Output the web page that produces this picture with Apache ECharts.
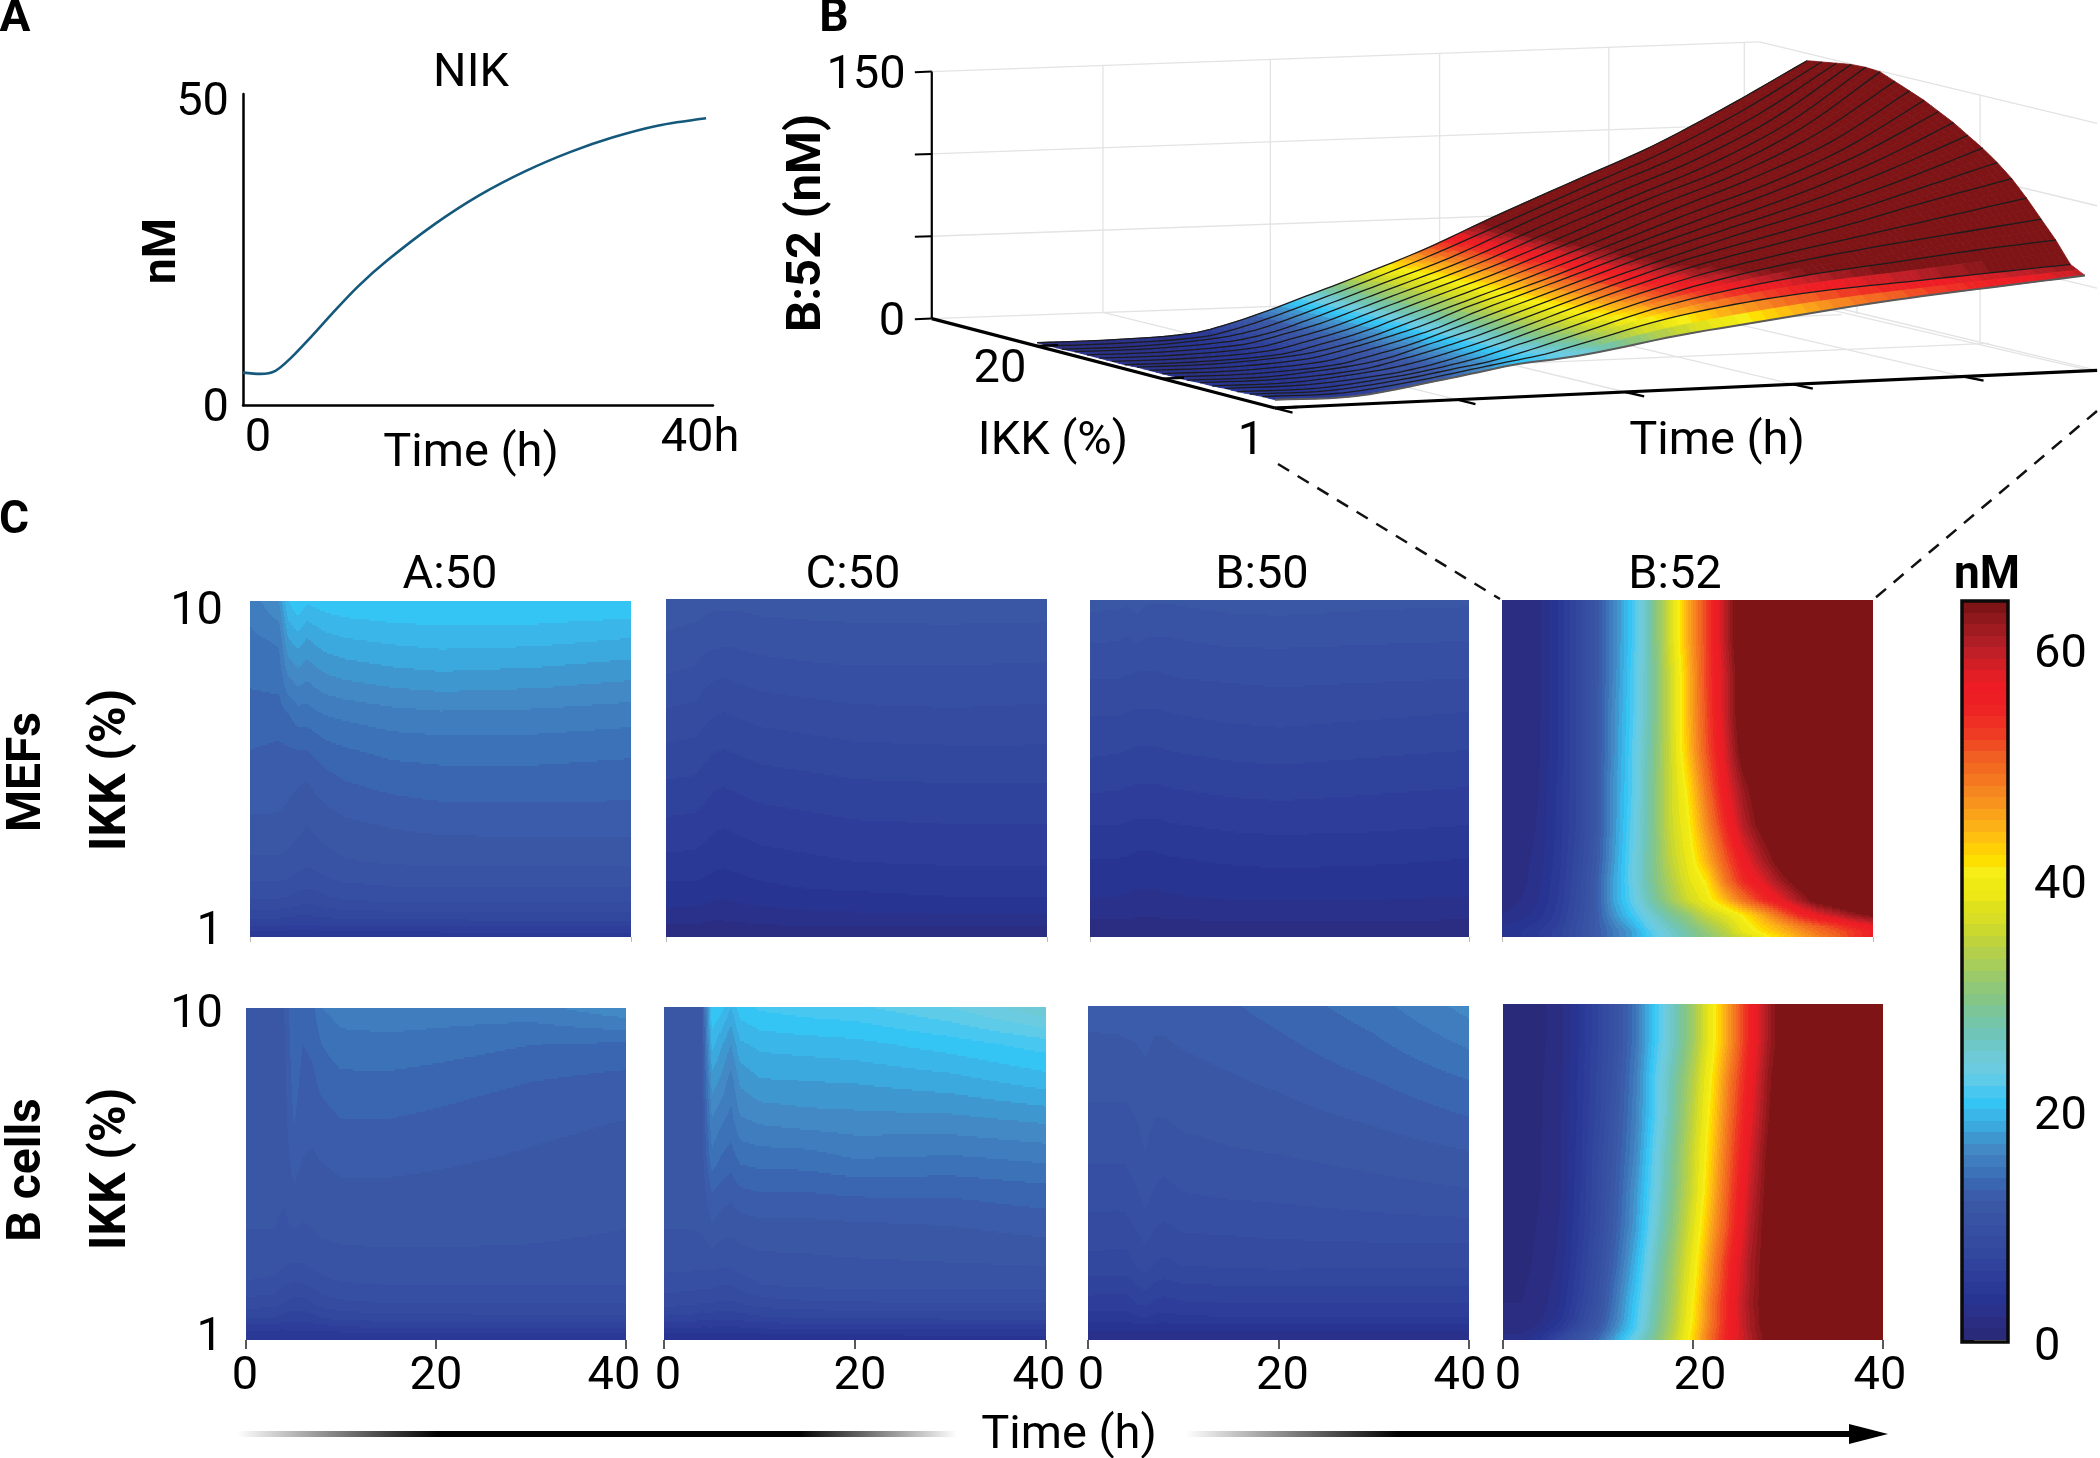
<!DOCTYPE html>
<html><head><meta charset="utf-8">
<style>html,body{margin:0;padding:0;background:#fff}#c{width:2100px;height:1458px}</style>
<script src="https://cdn.jsdelivr.net/npm/echarts@6/dist/echarts.min.js"></script>
</head><body><div id="c"></div>
<script>
// ---------- colour levels, one per nM (index = floor of the value) ----------
const levelColors = ['#2a2a7a','#2a2d82','#29318a','#273492','#2a3896','#2d3d99','#2f429c','#32479e','#354ba0','#374fa2',
'#3953a4','#3a57a6','#3b5caa','#3a65b0','#3c72b8','#3f7dbf','#4289c6','#3f97d0','#3ba8de','#3ab6e8',
'#34c5f5','#48c8f0','#5ecbe8','#6bcbe0','#6ecad6','#6fc8c8','#6fc5b8','#75c6a8','#7cc598','#85c687',
'#8fc878','#9aca69','#a7cd5b','#b3cf4c','#bfd33c','#cbd92f','#d7de25','#dfe11c','#ede716','#f0ea14',
'#f6ee16','#fde000','#ffd005','#ffc00f','#fcb116','#faa21a','#f8941d','#f6861f','#f57821','#f36b21',
'#f15f22','#f04d23','#ef3a24','#ef2f24','#ee2424','#ee1f24','#ee1c25','#e41e25','#d21f26','#c01f27',
'#ae1e24','#9f1b20','#8f181c','#7f1416'];
const colorbarTicks = [0,20,40,60];

// ---------- panel A ----------
const nikTime = [0,1.5,2.8,4.1,5.9,7.7,9.9,12.5,16.5,20.4,24.4,28.3,31.9,35.8,40];
const nikValue = [5.2,5.0,5.5,7.5,11.0,14.7,19.0,23.3,29.0,33.7,37.6,40.7,43.0,44.9,46.1];

// ---------- panel C grids ----------
const ikkRows = [1,1.15,1.3,1.6,2,2.5,3,4,5,6,7,8,9,10];
const timeBlue = [0,3,4,5,6,7,8,10,15,20,30,40];
const timeB52 = [0,2,4,6,8,10,12,14,16,18,20,22,24,26,28,30,32,34,36,38,40];

const a50Mef = [
[4.4,4.4,4.2,4.2,4.2,4.2,4.3,4.3,4.4,4.5,4.6,4.6],
[5,5,4.9,4.8,4.8,4.9,4.9,5,5.1,5.1,5.1,5.1],
[6,6,5.9,5.8,5.8,5.9,6,6.1,6.1,6.1,6.2,6.2],
[7.4,7.4,7.3,7.1,7,7.2,7.3,7.5,7.6,7.7,7.8,7.7],
[8.9,8.9,8.8,8.5,8.3,8.5,8.7,9,9.2,9.3,9.3,9.3],
[10,10,9.9,9.6,9.4,9.6,9.8,10.1,10.3,10.4,10.4,10.4],
[10.8,10.8,10.7,10.4,10.2,10.4,10.6,10.9,11.1,11.2,11.2,11.2],
[11.8,11.8,11.6,11.3,11,11.3,11.5,11.8,12.1,12.3,12.4,12.4],
[12.5,12.4,12.2,12,11.8,12.2,12.4,12.8,13.2,13.4,13.4,13.3],
[13,12.8,12.9,13,13,13.3,13.6,13.9,14.3,14.4,14.4,14.2],
[13.6,13.6,14,14.6,14.6,14.9,15.1,15.3,15.7,15.9,15.8,15.5],
[14.2,14.4,16,16.6,16.2,16.6,16.9,17.2,17.6,17.8,17.6,17.2],
[14.8,15.2,18,18.6,18,18.4,18.7,19,19.3,19.5,19.4,19],
[15.4,17,20,21,20.2,20.4,20.6,20.8,21,21,21,20.9]];

const c50Mef = [
[1.2,1.2,1.2,1.2,1.2,1.2,1.2,1.2,1.3,1.3,1.3,1.3],
[1.5,1.5,1.5,1.4,1.4,1.4,1.5,1.5,1.5,1.6,1.6,1.6],
[1.9,1.9,1.8,1.7,1.7,1.8,1.8,1.9,2,2,2,2],
[2.6,2.6,2.5,2.4,2.4,2.5,2.5,2.6,2.8,2.9,3,3],
[3.4,3.4,3.3,3.1,3,3.1,3.2,3.4,3.6,3.7,3.9,3.9],
[4,4,3.9,3.7,3.6,3.7,3.8,4,4.3,4.4,4.6,4.6],
[4.7,4.7,4.5,4.3,4.2,4.3,4.4,4.6,4.8,5,5.1,5.1],
[5.8,5.7,5.5,5.2,5.1,5.2,5.3,5.5,5.7,5.9,6,6],
[6.8,6.7,6.4,6.1,6,6.1,6.2,6.4,6.6,6.8,6.9,6.9],
[7.8,7.7,7.4,7.1,7,7.1,7.2,7.4,7.6,7.8,7.9,7.9],
[8.9,8.7,8.4,8.1,8,8.1,8.2,8.4,8.6,8.8,8.9,8.8],
[10,9.8,9.4,9.2,9.1,9.2,9.3,9.5,9.7,9.8,9.8,9.7],
[10.9,10.7,10.5,10.4,10.3,10.3,10.4,10.5,10.6,10.7,10.7,10.6],
[11.6,11.5,11.4,11.3,11.3,11.3,11.3,11.4,11.5,11.5,11.6,11.6]];

const b50Mef = [
[1.2,1.2,1.2,1.2,1.2,1.2,1.2,1.2,1.2,1.2,1.2,1.2],
[1.4,1.4,1.4,1.4,1.4,1.4,1.4,1.4,1.4,1.4,1.4,1.4],
[1.7,1.7,1.7,1.6,1.6,1.6,1.7,1.7,1.8,1.8,1.8,1.7],
[2.2,2.2,2.2,2.1,2.1,2.1,2.2,2.2,2.3,2.3,2.3,2.2],
[2.9,2.9,2.8,2.7,2.7,2.7,2.8,2.9,3,3,3,2.9],
[3.4,3.4,3.3,3.2,3.2,3.2,3.3,3.4,3.5,3.6,3.5,3.4],
[3.9,3.9,3.8,3.7,3.7,3.7,3.8,3.9,4.1,4.2,4.1,3.9],
[5,5,4.9,4.8,4.8,4.8,4.9,5,5.2,5.3,5.2,5],
[6.2,6.1,6,5.9,5.9,5.9,6,6.1,6.3,6.4,6.2,6],
[7.2,7.1,7,6.9,6.9,6.9,7,7.1,7.3,7.4,7.2,7],
[8.1,8.1,8,7.9,7.9,7.9,8,8.1,8.3,8.4,8.2,8],
[9.1,9.1,9,8.9,8.9,8.9,9,9.1,9.2,9.3,9.2,9.1],
[10.2,10.1,10,10.2,10,10,10,10.1,10.3,10.3,10.2,10.1],
[11.4,11.3,11.2,11.5,11.1,11.1,11.1,11.2,11.4,11.5,11.3,11.2]];

const a50Bcell = [
[4,4,4,4.6,4.4,4.2,4.2,4.2,4.3,4.3,4.4,4.4],
[4.4,4.4,4.4,4.8,4.6,4.5,4.5,4.6,4.7,4.7,4.7,4.7],
[5.2,5.2,5.1,5.3,5.2,5.2,5.3,5.6,5.8,5.8,5.8,5.8],
[7,7,6.6,6.4,6.4,6.6,7,7.3,7.6,7.6,7.7,7.7],
[8.6,8.4,8,7.6,7.6,8,8.4,8.8,9,9,9,9],
[9.8,9.6,9,8.8,8.9,9.2,9.6,9.9,10,10,10,10],
[10.6,10.4,10,9.9,9.9,10.2,10.4,10.6,10.7,10.7,10.7,10.6],
[11,11,10.8,11,10.9,11,11.2,11.3,11.3,11.3,11.2,11],
[11.2,11.2,11.1,11.8,11.4,11.4,11.6,11.8,11.8,11.7,11.5,11.2],
[11.4,11.3,11.3,12.6,12,11.9,12.1,12.3,12.3,12.2,11.9,11.6],
[11.5,11.4,11.5,13.1,12.3,12.4,12.6,13,13,12.8,12.3,12],
[11.6,11.5,11.6,13.5,12.6,12.8,13.3,13.7,13.7,13.5,13,12.6],
[11.7,11.6,11.8,13.8,13,13.2,14,14.6,14.7,14.5,14,13.8],
[11.8,11.7,12,14,13.4,13.8,15,15.5,15.6,15.6,15.6,16.8]];

const c50Bcell = [
[3.6,3.6,3.6,3.6,3.6,3.6,3.6,3.6,3.6,3.7,3.8,3.8],
[3.9,3.9,3.9,3.9,3.9,3.9,3.9,3.9,4,4,4.1,4.1],
[4.8,4.8,4.7,4.7,4.6,4.6,4.7,4.9,5,5,5.1,5.1],
[6.8,6.6,6.3,6.4,6.3,6.2,6.4,6.8,7,7.1,7.2,7.2],
[8.4,8.2,8,8,7.8,7.8,8,8.5,8.8,8.9,9,9],
[9.5,9.4,9.2,9.2,9,9,9.4,10,10.2,10.3,10.3,10.3],
[10.3,10.2,10.2,10.3,10.1,10.1,10.4,10.6,10.7,10.8,10.9,11],
[11,11,11.1,11.8,11.4,11.2,11.4,11.6,11.6,11.7,11.9,12.3],
[11.3,11.3,11.4,13,12.6,12.3,12.8,13,13,13.2,13.2,13.6],
[11.5,11.5,11.6,14.8,14,13.6,14.4,14.6,14.7,15.2,15,15.4],
[11.6,11.6,11.7,16,15.3,14.7,15.9,16.3,16.6,16.7,16.8,17.3],
[11.7,11.7,11.8,17.5,16.8,15.5,17.2,17.9,18,18.1,18.6,19.5],
[11.8,11.8,11.9,19.4,18.2,17,18.8,19.3,19.5,19.7,20.5,21.5],
[11.9,11.9,12,21,20.5,19,20.6,21.2,21.6,21.8,23,25]];

const b50Bcell = [
[2,2,2,2,2.2,2,2,2,2,2,2.1,2.1],
[2.4,2.4,2.4,2.4,2.6,2.4,2.4,2.5,2.5,2.5,2.5,2.5],
[3.2,3.2,3.2,3.2,3.4,3.2,3.2,3.3,3.3,3.3,3.3,3.3],
[4.6,4.5,4.5,4.8,5,4.7,4.6,4.8,4.9,4.9,4.9,4.9],
[5.6,5.5,5.5,6,6.3,5.8,5.6,5.9,6,6,6,6],
[6.6,6.5,6.5,7,7.4,6.9,6.7,7,7.1,7.1,7.1,7.1],
[7.6,7.5,7.5,8,8.4,7.9,7.7,8,8.1,8.2,8.1,8.1],
[8.6,8.6,8.6,9,9.5,9,8.8,9.1,9.2,9.3,9.5,9.6],
[9.5,9.4,9.5,9.9,10.4,9.9,9.7,10,10.2,10.3,10.6,10.9],
[10.2,10.2,10.2,10.5,11,10.5,10.4,10.7,10.9,11,11.4,11.9],
[10.8,10.8,10.8,11,11.4,11,11,11.2,11.4,11.6,12.2,13],
[11.3,11.3,11.3,11.4,11.7,11.4,11.4,11.6,11.9,12.2,13,14],
[11.8,11.8,11.9,12,12.2,11.9,11.9,12.1,12.4,12.8,13.8,15.2],
[12.5,12.6,12.7,12.8,12.7,12.4,12.4,12.5,12.9,13.4,14.6,16.4]];

const b52Mef = [
[3.5,4,5,6.5,9,12,15,18,21.5,24.5,27.5,30,33,36,39.5,42,45,47.5,50,53,55.5],
[3.5,4,5,6.5,9,12,15,18,22,25,28,31,34,38.5,41.5,44,46.5,49,51,53,55.5],
[3,3.5,4.5,6,9,12,15.5,19,23,26,29,32,35,39,42.5,45,48,50.5,52.5,55,57],
[2,2.5,3.5,5.5,8.5,12,17,21,24.5,28,31,35,37.5,41,45,49.5,54,57,59.5,62,64],
[1.5,2,3,5,8,12,18,22.5,27,31.5,36,39,44,49,53.5,57,61,65,67,69,71],
[1,1.5,2.8,4.7,7.8,12,18,23,28,33,37.5,41,48.5,54,57.5,61.5,65,67,69,71,73],
[1,1.5,2.5,4.5,7.5,11.5,17.5,23,28,34,38.5,44,50.5,56,60.5,64.5,67,69,71,73,76],
[1,1,2.2,4.3,7,11,17,22.5,28,35,40,47,54,60,64.5,67,69,71,74,77,80],
[1,1,2,4.2,7,11,17,22,28,35,41.5,49,56.5,62,66,68,72,75,78,82,86],
[1,1,1.9,4,7,11,16.5,22,27.5,35,43.5,51,58,65,69,72,75,79,83,87,91],
[1,1,1.8,4,7,11,16.5,21.5,27,35,44,51.5,59,66,70,73,78,83,88,92,96],
[1,1,1.8,4,7,11,16,21.5,27,35,44,52,59,66,71,77,82,87,92,97,102],
[1,1,1.8,4,7,11,16,21,27,36,45,52,60,67,73,79,85,90,96,101,106],
[1,1,1.8,4,7,11,16,21,27,36,45,52,60,67,74,80,86,92,98,104,110]];

const b52Bcell = [
[2.5,2.5,4,7.5,10.5,14,19,24,29,35,42,50,56.5,60.5,64.5,67,70,72,74,76,78],
[2,2,3.5,6.5,10,13,18,23,28.5,34.5,42,50,56,60.5,64.5,67,70,72,74,76,78],
[1.5,1.5,2.5,5,8.5,12,17,22,28,34,41.5,49.5,56,61,65,68,70,72,74,76,78],
[1,1,1.8,3.5,7,11,16,21.5,27.5,33.5,41,49,56,61,65,68,70,72,74,76,78],
[1,1,1.5,3,6.3,10,15.5,21,27,33,40.5,49,56,61.5,65,68,71,73,75,77,79],
[0.9,0.9,1.3,2.6,5.9,9.6,14.8,20.2,26.5,32.5,39.8,48,55.5,61,65,68,71,73,75,77,79],
[0.8,0.8,1.2,2.3,5.5,9.2,14,19.5,26,32,39,47.5,55,61,65,68,71,73,75,77,79],
[0.7,0.7,1.1,2.1,5,8.5,13,18,24.5,30.5,37.5,45.5,53,60,65,69,72,75,77,79,81],
[0.6,0.6,1,1.9,4.7,8.2,12.5,17.5,23.5,29.5,36,44,52,59,64.5,68,72,75,78,80,82],
[0.6,0.6,1,1.9,4.5,8,12,16.5,23,29,35.5,43,51,58,64,68,72,75,78,81,84],
[0.5,0.5,0.9,1.8,4.3,7.5,11.5,16,22,28,34.5,42,50,57,63,67,71,75,78,82,85],
[0.5,0.5,0.9,1.7,4.2,7.3,11,15.7,22,27.5,33.5,41,49,56,62.5,67,71,75,79,83,86],
[0.5,0.5,0.8,1.6,4,7,10.5,15,21,26,32,39.5,47,55,61.5,66,70,75,79,83,87],
[0.5,0.5,0.8,1.6,4,7,10.5,15,21,26,32,39.5,47,55,61.5,66,70,75,80,84,88]];

// ---------- panel B surface ----------
const surfaceTime = [0,4,8,10,12,14,16,20,24,28,32,36,40];
const surfaceIkk = [1,2,3,4,5,6,7,8,9,10,11,12,13,14,15,16,17,18,19,20];
const surfaceB52 = [
[5,5,12,16,20,22,25,33,39,45,50,54,58],
[5,5,11,15,19,23,29,41,49,54,57,60,63],
[4.5,4.5,10,14,18,24,31,45,55,62,67,72,76],
[4,4,9,13,18,25,32,47,59,68,75,81,87],
[4,4,8,12,18,25,33,48,61,71,80,89,98],
[3.5,3.5,8,12,18,25,33,49,63,74,85,97,108],
[3.5,3.5,7,12,18,25,33,49,64,76,88,102,116],
[3,3,7,11,18,25,33,49,64,78,91,106,123],
[3,3,6,11,17,25,33,49,65,79,93,110,129],
[3,3,6,11,17,24,33,49,65,80,95,113,135],
[3,3,6,11,17,24,33,48,65,81,97,116,140],
[3,3,6,10,16,24,32,48,65,82,98,118,145],
[2.5,2.5,5,10,16,24,32,48,65,83,100,120,149],
[2.5,2.5,5,10,16,24,32,48,66,84,101,123,153],
[2.5,2.5,5,10,16,24,32,48,66,85,102,125,157],
[2.5,2.5,5,10,16,24,32,48,67,85,103,126,158],
[2.5,2.5,5,9,16,24,32,48,67,86,104,127,158],
[2,2,5,9,16,24,32,48,68,87,105,128,157],
[2,2,4,9,16,24,32,49,68,87,106,129,156],
[2,2,4,9,16,24,32,49,69,88,107,130,155]];
const zTicks = [0,50,100,150];
const wallTimes = [9.1,18,27,36,43.2];
const floorPairs = [[9.1,9],[18,17.3],[27,25.6],[36,34],[43.2,40.3]];
const timeTicks3d = [0,9,17.3,25.6,34];
const ikkTicks3d = [1,10,20];
const IKK_BACK = 28.4, T_BACK = 44, T_FRONT = 40.6;

// ---------- projection of panel B: floor corners on its own plot scale ----------
const GX = 900;
const cornerA = [1275-GX,408], cornerB = [2085-GX,371], cornerC = [1037-GX,346], cornerD = [1807-GX,316];
const zPx = 1.647;
function project(t,k,z){
  const u=t/40, v=(k-1)/19, a=(1-u)*(1-v), b=u*(1-v), c=(1-u)*v, d=u*v;
  return [a*cornerA[0]+b*cornerB[0]+c*cornerC[0]+d*cornerD[0],
          a*cornerA[1]+b*cornerB[1]+c*cornerC[1]+d*cornerD[1]-zPx*z];
}
function levelOf(v){ return Math.max(0,Math.min(levelColors.length-1,Math.floor(v))); }
// shading between the table's columns of the surface, so the sheet is drawn without facets
function slopeAt(Z,i){
  const T=surfaceTime,n=T.length-1;
  const a=Math.max(0,i-1),b=Math.min(n,i+1);
  return (Z[b]-Z[a])/(T[b]-T[a]);
}
function rowZ(r,c,fu){
  const Z=surfaceB52[r],T=surfaceTime,dt=T[c+1]-T[c];
  const f2=fu*fu,f3=f2*fu;
  return (2*f3-3*f2+1)*Z[c]+(f3-2*f2+fu)*dt*slopeAt(Z,c)+(-2*f3+3*f2)*Z[c+1]+(f3-f2)*dt*slopeAt(Z,c+1);
}

// ---------- option pieces ----------
const grids=[], xAxes=[], yAxes=[], series=[];
const FONT='Roboto', FS=47;
function heatData(m,times,rows){
  const out=[];
  for(let r=0;r<rows.length-1;r++)for(let c=0;c<times.length-1;c++)
    out.push([times[c],rows[r],times[c+1],rows[r+1],m[r][c],m[r][c+1],m[r+1][c],m[r+1][c+1]]);
  return out;
}
function renderHeat(params,api){
  const t0=api.value(0),k0=api.value(1),t1=api.value(2),k1=api.value(3);
  const a=api.value(4),b=api.value(5),c=api.value(6),d=api.value(7);
  const p0=api.coord([t0,k0]),p1=api.coord([t1,k1]);
  const x0=Math.round(p0[0]),x1=Math.round(p1[0]),yb=Math.round(p0[1]),yt=Math.round(p1[1]);
  const la=levelOf(a),children=[];
  if(la===levelOf(b)&&la===levelOf(c)&&la===levelOf(d)){
    return {type:'rect',shape:{x:x0,y:yt,width:x1-x0,height:yb-yt},style:{fill:levelColors[la]}};
  }
  for(let y=yt;y<yb;y+=2){
    const h=Math.min(2,yb-y),fy=(yb-y-h/2)/(yb-yt);
    let start=x0,cur=-1;
    for(let x=x0;x<=x1;x++){
      let L=-2;
      if(x<x1){const fx=(x+0.5-x0)/(x1-x0);
        L=levelOf((a*(1-fx)+b*fx)*(1-fy)+(c*(1-fx)+d*fx)*fy);}
      if(L!==cur){
        if(cur>=0)children.push({type:'rect',shape:{x:start,y:y,width:x-start,height:h},style:{fill:levelColors[cur]}});
        start=x;cur=L;
      }
    }
  }
  return {type:'group',children};
}
function addHeat(box,matrix,times,dx,showX,yMargin,yPad){
  const i=grids.length;
  const pad=d=>d>=0?[0,0,0,2*d]:[0,-2*d,0,0];
  const lab={fontFamily:FONT,fontSize:FS,color:'#000'};
  grids.push({left:box[0],top:box[1],width:box[2]-box[0],height:box[3]-box[1]});
  xAxes.push({type:'value',gridIndex:i,min:0,max:40,interval:20,splitLine:{show:false},axisLine:{show:false},
    axisTick:{show:true,customValues:showX?[0,20,40]:[0,40],length:showX?9:5,lineStyle:{color:showX?'#222':'#bbb',width:showX?1.5:1}},
    axisLabel:{show:showX,margin:14,hideOverlap:false,showMinLabel:true,showMaxLabel:true,
      formatter:v=>'{l'+v+'|'+v+'}',
      rich:{l0:Object.assign({padding:pad(dx[0])},lab),l20:Object.assign({padding:pad(dx[1])},lab),l40:Object.assign({padding:pad(dx[2])},lab)}}});
  const shown=yMargin!=null;
  yAxes.push({type:'value',gridIndex:i,min:1,max:10,splitLine:{show:false},axisLine:{show:false},axisTick:{show:false},
    axisLabel:{show:shown,customValues:[1,10],margin:shown?yMargin:8,
      formatter:v=>v===10?'{t|10}':'{b|1}',
      rich:{t:Object.assign({padding:yPad?yPad[0]:0},lab),b:Object.assign({padding:yPad?yPad[1]:0},lab)}}});
  series.push({type:'custom',xAxisIndex:i,yAxisIndex:i,data:heatData(matrix,times,ikkRows),renderItem:renderHeat,
    encode:{x:[0,2],y:[1,3]},animation:false,silent:true,clip:true,progressive:0});
}

addHeat([250,601,631,937],a50Mef,timeBlue,[0,0,0],false,27,[[22,0,0,0],[0,0,9,0]]);
addHeat([666,599,1047,937],c50Mef,timeBlue,[0,0,0],false);
addHeat([1090,600,1469,937],b50Mef,timeBlue,[0,0,0],false);
addHeat([1502,600,1873,937],b52Mef,timeB52,[0,0,0],false);
addHeat([246,1008,626,1340],a50Bcell,timeBlue,[-1,0,-12],true,23,[[14,0,0,0],[0,0,4,0]]);
addHeat([664,1007,1046,1340],c50Bcell,timeBlue,[4,5,-7],true);
addHeat([1088,1006,1469,1340],b50Bcell,timeBlue,[3,4,-9],true);
addHeat([1503,1004,1883,1340],b52Bcell,timeB52,[5,7,-3],true);

// colour bar
{
  const i=grids.length;
  grids.push({left:1962,top:601,width:46,height:739});
  xAxes.push({type:'value',gridIndex:i,min:0,max:1,show:false});
  yAxes.push({type:'value',gridIndex:i,position:'right',min:0,max:64,splitLine:{show:false},axisLine:{show:false},
    axisTick:{show:true,customValues:colorbarTicks,length:12,lineStyle:{color:'#111',width:2}},
    axisLabel:{customValues:colorbarTicks,margin:26,formatter:v=>'{a|'+v+'}',
      rich:{a:{fontFamily:FONT,fontSize:FS,color:'#000',padding:[16,0,0,0]}}}});
  series.push({type:'custom',xAxisIndex:i,yAxisIndex:i,data:levelColors.map((c,L)=>[0,L,1,L+1]),
    encode:{x:[0,2],y:[1,3]},animation:false,silent:true,
    renderItem(p,api){
      const a=api.coord([0,api.value(1)]),b=api.coord([1,api.value(3)]);
      return {type:'rect',shape:{x:a[0],y:Math.round(b[1]),width:b[0]-a[0],height:Math.round(a[1])-Math.round(b[1])},
        style:{fill:levelColors[p.dataIndex]}};
    }});
}

// panel A
{
  const i=grids.length;
  const lab={fontFamily:FONT,fontSize:FS,color:'#000'};
  grids.push({left:243,top:94,width:470,height:311});
  xAxes.push({type:'value',gridIndex:i,min:0,max:40.6,splitLine:{show:false},axisTick:{show:false},
    axisLine:{show:true,lineStyle:{color:'#000',width:2.5}},
    axisLabel:{customValues:[0,40],margin:11,formatter:v=>v===0?'{a|0}':'{b|40h}',
      rich:{a:Object.assign({padding:[0,0,0,30]},lab),b:Object.assign({padding:[0,12,0,0]},lab)}}});
  yAxes.push({type:'value',gridIndex:i,min:0,max:50,splitLine:{show:false},axisTick:{show:false},
    axisLine:{show:true,lineStyle:{color:'#000',width:2.5}},
    axisLabel:{customValues:[0,50],margin:14,formatter:v=>v===50?'{a|50}':'{b|0}',
      rich:{a:Object.assign({padding:[18,0,0,0]},lab),b:Object.assign({padding:[8,0,0,0]},lab)}}});
  series.push({type:'line',xAxisIndex:i,yAxisIndex:i,data:nikTime.map((t,k)=>[t,nikValue[k]]),smooth:0.3,showSymbol:false,
    animation:false,lineStyle:{color:'#14597c',width:2.6},silent:true});
}

// panel B: hidden plot scale that carries the projected surface
const gB=grids.length;
grids.push({left:GX,top:0,width:1200,height:460});
xAxes.push({type:'value',gridIndex:gB,min:0,max:1200,show:false});
yAxes.push({type:'value',gridIndex:gB,min:0,max:460,inverse:true,show:false});

const grayLines=[];
zTicks.forEach(z=>{
  grayLines.push([0,IKK_BACK,z,T_BACK,IKK_BACK,z]);
  grayLines.push([T_BACK,IKK_BACK,z,T_FRONT,1,z]);
});
wallTimes.forEach(t=>grayLines.push([t,IKK_BACK,0,t,IKK_BACK,150]));
grayLines.push([41.8,10.6,0,41.8,10.6,150]);
grayLines.push([42.6,20,0,42.6,20,150]);
floorPairs.forEach(p=>grayLines.push([p[0],IKK_BACK,0,p[1],1,0]));
[10,20].forEach(k=>grayLines.push([0,k,0,41.8,k,0]));

const blackLines=[
 [0,IKK_BACK,0,0,1,0,3.2],[0,1,0,T_FRONT,1,0,3.2],[0,IKK_BACK,0,0,IKK_BACK,150,2.2]];
zTicks.forEach(z=>blackLines.push([0,IKK_BACK,z,-0.9,IKK_BACK,z,2]));
timeTicks3d.forEach(t=>blackLines.push([t,1,0,t,-0.4,0,2.4]));
ikkTicks3d.forEach(k=>blackLines.push([0,k,0,1.1,k,0,2.4]));

function lineSeries(data,color,widthFn,z){
  return {type:'custom',xAxisIndex:gB,yAxisIndex:gB,data,animation:false,silent:true,clip:false,z,progressive:0,
    encode:{x:[],y:[]},
    renderItem(p,api){
      const a=api.coord(project(api.value(0),api.value(1),api.value(2)));
      const b=api.coord(project(api.value(3),api.value(4),api.value(5)));
      return {type:'line',shape:{x1:a[0],y1:a[1],x2:b[0],y2:b[1]},style:{stroke:color,lineWidth:widthFn(api),fill:null}};
    }};
}
series.push(lineSeries(grayLines,'#e3e3e3',()=>1.3,2));

// surface cells, back row first
const surfaceCells=[];
for(let r=surfaceIkk.length-2;r>=0;r--)for(let c=0;c<surfaceTime.length-1;c++) surfaceCells.push([r,c]);
series.push({type:'custom',xAxisIndex:gB,yAxisIndex:gB,data:surfaceCells,animation:false,silent:true,clip:false,z:3,progressive:0,
  encode:{x:[],y:[]},
  renderItem(p,api){
    const r=api.value(0),c=api.value(1);
    const t0=surfaceTime[c],t1=surfaceTime[c+1],k0=surfaceIkk[r],k1=surfaceIkk[r+1];
    const nu=Math.ceil((t1-t0)*3),nv=2,children=[];
    const zAt=(fu,fv)=>rowZ(r,c,fu)*(1-fv)+rowZ(r+1,c,fu)*fv;
    const pt=(fu,fv)=>api.coord(project(t0+(t1-t0)*fu,k0+(k1-k0)*fv,zAt(fu,fv)));
    for(let j=nv-1;j>=0;j--)for(let i=0;i<nu;i++){
      const u0=i/nu,u1=(i+1)/nu,v0=j/nv,v1=(j+1)/nv;
      const col=levelColors[levelOf(zAt((u0+u1)/2,(v0+v1)/2))];
      children.push({type:'polygon',shape:{points:[pt(u0,v0),pt(u1,v0),pt(u1,v1),pt(u0,v1)]},
        style:{fill:col,stroke:col,lineWidth:0.8}});
    }
    return {type:'group',children};
  }});
// black lines along every IKK row of the surface
series.push({type:'custom',xAxisIndex:gB,yAxisIndex:gB,data:surfaceIkk.map((k,r)=>[k,r]),animation:false,silent:true,clip:false,z:4,progressive:0,
  encode:{x:[],y:[]},
  renderItem(p,api){
    const k=api.value(0),r=api.value(1),pts=[];
    for(let c=0;c<surfaceTime.length-1;c++)for(let s=0;s<6;s++){
      const fu=s/6;
      pts.push(api.coord(project(surfaceTime[c]+(surfaceTime[c+1]-surfaceTime[c])*fu,k,rowZ(r,c,fu))));
    }
    const last=surfaceTime.length-1;
    pts.push(api.coord(project(surfaceTime[last],k,surfaceB52[r][last])));
    return {type:'polyline',shape:{points:pts},style:{stroke:r===0?'#5a5a5a':'#1c1c1c',lineWidth:r===0?2:1.3,fill:null}};
  }});
series.push(lineSeries(blackLines,'#000',api=>api.value(6),5));

// ---------- text and annotation ----------
function T(text,x,y,size,bold,rot){
  // Roboto's box sits slightly above its glyphs' visual centre: nudged along the text's own vertical
  const nudge=Math.round(size*0.1);
  const rotated=!!rot;
  return {type:'text',x:rotated?x+nudge:x,y:rotated?y:y+nudge,rotation:rot||0,z:20,silent:true,
    style:{text,fill:'#000',align:'center',verticalAlign:'middle',font:(bold?'700 ':'400 ')+size+'px '+FONT}};
}
const R=Math.PI/2;
const graphic=[
 T('A',15,14,46,true),T('B',834,14,46,true),T('C',14,516,46,true),
 T('NIK',471,69,FS),T('nM',158,251,46,true,R),T('Time (h)',471,449,FS),
 T('B:52 (nM)',803,223,49,true,R),T('150',866,71,FS),T('0',892,318,FS),
 T('20',1000,365,FS),T('1',1251,437,FS),T('IKK (%)',1053,437,FS),T('Time (h)',1717,437,FS),
 T('A:50',450,571,FS),T('C:50',853,571,FS),T('B:50',1262,571,FS),T('B:52',1675,571,FS),T('nM',1987,571,46,true),
 T('MEFs',23,772,48,true,R),T('IKK (%)',107,770,50,true,R),T('B cells',23,1170,48,true,R),T('IKK (%)',107,1169,50,true,R),
 T('Time (h)',1069,1431,FS),
 {type:'line',z:20,silent:true,shape:{x1:1278,y1:464,x2:1500,y2:599},style:{stroke:'#111',lineWidth:2.5,lineDash:[13,10]}},
 {type:'line',z:20,silent:true,shape:{x1:2097,y1:411,x2:1874,y2:599},style:{stroke:'#111',lineWidth:2.5,lineDash:[13,10]}},
 {type:'rect',z:20,silent:true,shape:{x:1962,y:601,width:46,height:741},style:{fill:null,stroke:'#0a0a0a',lineWidth:3.5}},
 {type:'rect',z:20,silent:true,shape:{x:237,y:1431,width:720,height:6},style:{fill:{type:'linear',x:0,y:0,x2:1,y2:0,
   colorStops:[{offset:0,color:'rgba(0,0,0,0)'},{offset:0.28,color:'#000'},{offset:0.78,color:'#000'},{offset:1,color:'rgba(0,0,0,0)'}]}}},
 {type:'rect',z:20,silent:true,shape:{x:1186,y:1431,width:664,height:6},style:{fill:{type:'linear',x:0,y:0,x2:1,y2:0,
   colorStops:[{offset:0,color:'rgba(0,0,0,0)'},{offset:0.32,color:'#000'},{offset:1,color:'#000'}]}}},
 {type:'polygon',z:20,silent:true,shape:{points:[[1849,1424],[1888,1434],[1849,1444]]},style:{fill:'#000'}}
];

const chart=echarts.init(document.getElementById('c'),null,{renderer:'canvas'});
chart.setOption({animation:false,backgroundColor:'#fff',grid:grids,xAxis:xAxes,yAxis:yAxes,series,graphic:{elements:graphic}});
</script></body></html>
